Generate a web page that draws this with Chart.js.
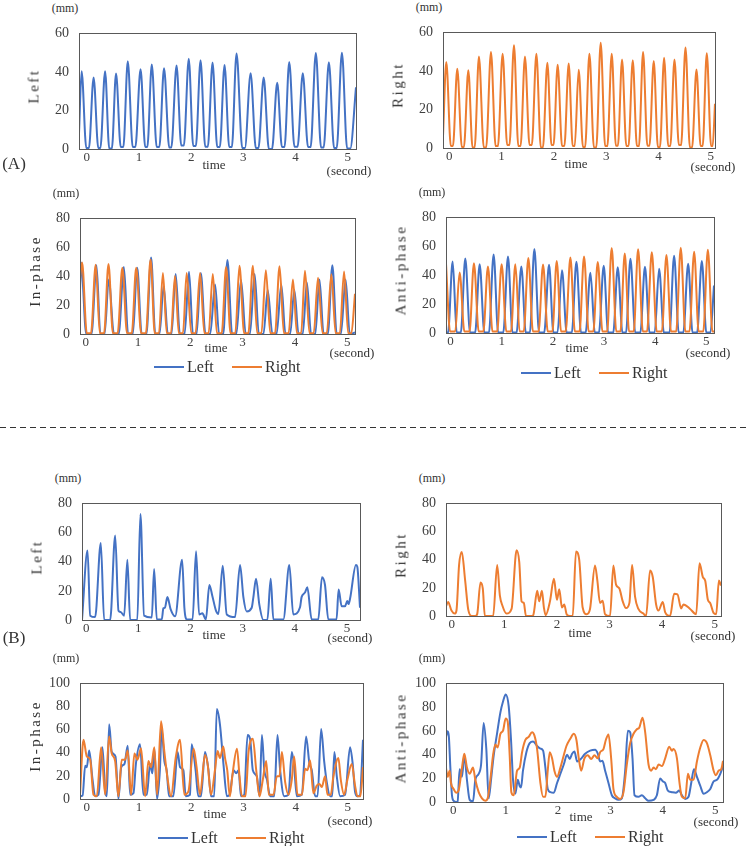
<!DOCTYPE html>
<html>
<head>
<meta charset="utf-8">
<script src="https://cdn.jsdelivr.net/npm/chart.js@4.4.1/dist/chart.umd.min.js"></script>
<style>
  body { margin: 0; width: 750px; height: 846px; background: #fff; position: relative; overflow: hidden;
         font-family: "Liberation Serif", "DejaVu Serif", serif; color: #333; }
  canvas { position: absolute; }
  .t { position: absolute; white-space: nowrap; transform: translate(-50%, -50%); line-height: 1.2; }
  .yl { position: absolute; white-space: nowrap; transform: translate(-50%, -50%) rotate(-90deg);
        letter-spacing: 2.5px; font-size: 15px; line-height: 1; }
  .sw { position: absolute; height: 2px; width: 30px; }
</style>
</head>
<body>
<svg style="position:absolute;left:0;top:0" width="750" height="846">
  <line x1="0" y1="427.5" x2="750" y2="427.5" stroke="#333" stroke-width="1" stroke-dasharray="6,4"/>
</svg>
<script>
// time (second), displacement (mm)

// (A) Left / Right alone
const aLeft = [[-0.15,8],[-0.10,40.3],[-0.01,0.5],[0.04,0.5],[0.13,37.1],[0.22,0.5],[0.26,0.5],[0.35,40.3],[0.43,0.3],[0.48,0.3],[0.56,39.2],[0.65,1],[0.70,1],[0.785,45.5],[0.88,1],[0.93,1],[1.03,41.4],[1.12,1],[1.16,1],[1.245,43.8],[1.34,1],[1.39,1],[1.48,41.9],[1.58,0.8],[1.62,0.8],[1.72,43.3],[1.81,1.8],[1.86,1.8],[1.954,46.9],[2.04,1.5],[2.09,1.5],[2.18,46],[2.27,1.2],[2.32,1.2],[2.41,44.9],[2.50,1],[2.55,1],[2.64,43.6],[2.73,1],[2.78,1],[2.87,49.6],[2.98,0.5],[3.03,0.5],[3.14,39.3],[3.24,0.5],[3.29,0.5],[3.39,37.1],[3.49,0],[3.55,0],[3.65,34.4],[3.74,1],[3.79,1],[3.88,45.2],[3.98,1.2],[4.04,1.2],[4.14,39.3],[4.24,1],[4.29,1],[4.39,49.8],[4.49,0.8],[4.54,0.8],[4.64,45],[4.74,0.5],[4.79,0.5],[4.89,50],[4.99,0.3],[5.05,0.3],[5.16,32]];

const aRight = [[-0.12,6],[-0.057,44.6],[0.03,1],[0.07,1],[0.153,41.1],[0.24,0.5],[0.28,0.5],[0.364,40.3],[0.445,0.3],[0.485,0.3],[0.567,47.5],[0.66,0.3],[0.705,0.3],[0.797,49.8],[0.886,1],[0.93,1],[1.02,48.9],[1.107,1.5],[1.15,1.5],[1.237,53.3],[1.32,1],[1.363,1],[1.447,47.5],[1.534,1.5],[1.578,1.5],[1.665,48.9],[1.75,0.3],[1.79,0.3],[1.875,44.3],[1.954,1.5],[1.993,1.5],[2.072,43.2],[2.156,1],[2.2,1],[2.283,43.8],[2.36,1],[2.398,1],[2.474,40.6],[2.556,0.5],[2.597,0.5],[2.679,48.9],[2.765,0.3],[2.81,0.3],[2.895,54.6],[2.98,1],[3.022,1],[3.106,48.9],[3.185,1.2],[3.224,1.2],[3.303,45.9],[3.385,1],[3.426,1],[3.508,45.5],[3.587,1],[3.626,1],[3.705,49.8],[3.787,1.2],[3.827,1.2],[3.909,45.1],[3.988,0.5],[4.028,0.5],[4.107,46.8],[4.186,1],[4.226,1],[4.305,45.9],[4.389,1.5],[4.432,1.5],[4.516,52.2],[4.6,0.3],[4.642,0.3],[4.726,40.8],[4.805,1],[4.844,1],[4.923,49.2],[5.005,1],[5.035,1],[5.08,23]];

// (A) in-phase
const aInLeft = [[-0.11,30],[-0.09,49.5],[0.01,0],[0.11,0],[0.205,47.6],[0.28,0],[0.36,0],[0.44,37.8],[0.54,0],[0.63,0],[0.729,46.3],[0.81,0],[0.90,0],[0.984,45.9],[1.07,0],[1.16,0],[1.25,52.9],[1.33,0],[1.41,0],[1.49,33],[1.57,0],[1.64,0],[1.72,41.6],[1.80,0],[1.89,0],[1.975,43.1],[2.05,0],[2.12,0],[2.20,42.3],[2.29,0],[2.38,0],[2.474,34.2],[2.55,0],[2.63,0],[2.71,51.2],[2.80,0],[2.88,0],[2.97,37.4],[3.06,0],[3.14,0],[3.23,41.6],[3.31,0],[3.40,0],[3.48,30.4],[3.57,0],[3.65,0],[3.74,34.2],[3.82,0],[3.91,0],[3.99,30.4],[4.07,0],[4.15,0],[4.23,35.7],[4.31,0],[4.39,0],[4.47,37.8],[4.55,0],[4.63,0],[4.717,47.6],[4.80,0],[4.88,0],[4.97,37.8],[5.05,0],[5.15,1]];

const aInRight = [[-0.11,38],[-0.07,49.5],[0.02,0.5],[0.10,0.5],[0.19,48],[0.27,0.5],[0.35,0.5],[0.435,48.4],[0.52,0.5],[0.61,0.5],[0.70,45.9],[0.79,0.5],[0.88,0.5],[0.965,45.9],[1.06,0.5],[1.15,0.5],[1.24,51.6],[1.32,0.5],[1.40,0.5],[1.476,42.3],[1.55,0.5],[1.63,0.5],[1.707,40.1],[1.78,0.5],[1.86,0.5],[1.93,42.3],[2.02,0.5],[2.10,0.5],[2.186,42.3],[2.27,0.5],[2.35,0.5],[2.43,41.6],[2.51,0.5],[2.60,0.5],[2.685,46.3],[2.77,0.5],[2.86,0.5],[2.94,47.3],[3.03,0.5],[3.11,0.5],[3.197,47.3],[3.28,0.5],[3.36,0.5],[3.445,44.2],[3.53,0.5],[3.62,0.5],[3.707,46.9],[3.79,0.5],[3.88,0.5],[3.963,37.8],[4.04,0.5],[4.12,0.5],[4.193,43.7],[4.28,0.5],[4.36,0.5],[4.443,38.9],[4.53,0.5],[4.61,0.5],[4.698,41.4],[4.78,0.5],[4.86,0.5],[4.941,43.3],[5.02,0.5],[5.08,0.5],[5.15,27.8]];

// (A) anti-phase
const aAntiLeft = [[-0.09,0.3],[-0.05,0.3],[0.04,49.5],[0.12,0.3],[0.20,0.3],[0.287,51.6],[0.38,0.3],[0.48,0.3],[0.568,47.6],[0.66,0.3],[0.75,0.3],[0.841,54.4],[0.93,0.3],[1.03,0.3],[1.122,52.9],[1.21,0.3],[1.29,0.3],[1.383,46.1],[1.47,0.3],[1.55,0.3],[1.638,58.2],[1.73,0.3],[1.83,0.3],[1.925,47.2],[2.01,0.3],[2.09,0.3],[2.178,43.4],[2.27,0.3],[2.37,0.3],[2.46,49.3],[2.55,0.3],[2.64,0.3],[2.734,41.7],[2.82,0.3],[2.90,0.3],[2.994,46.6],[3.08,0.3],[3.18,0.3],[3.268,45.5],[3.36,0.3],[3.43,0.3],[3.516,51.4],[3.61,0.3],[3.71,0.3],[3.80,45.9],[3.89,0.3],[3.99,0.3],[4.077,44.4],[4.17,0.3],[4.28,0.3],[4.37,53.5],[4.46,0.3],[4.55,0.3],[4.645,48],[4.73,0.3],[4.82,0.3],[4.912,49.9],[5.0,0.3],[5.08,0.3],[5.15,32.8]];

const aAntiRight = [[-0.09,48],[-0.01,1],[0.09,1],[0.176,41.9],[0.27,1],[0.37,1],[0.456,48.3],[0.55,1],[0.64,1],[0.73,46.1],[0.82,1],[0.91,1],[0.998,47.6],[1.09,1],[1.18,1],[1.266,47.6],[1.35,1],[1.43,1],[1.52,51.9],[1.61,1],[1.72,1],[1.807,47.4],[1.90,1],[1.99,1],[2.075,49.9],[2.16,1],[2.25,1],[2.342,52.3],[2.43,1],[2.52,1],[2.609,52.9],[2.70,1],[2.79,1],[2.877,49.1],[2.97,1],[3.06,1],[3.15,58.8],[3.24,1],[3.32,1],[3.405,55],[3.49,1],[3.58,1],[3.666,58],[3.76,1],[3.84,1],[3.934,55.9],[4.03,1],[4.13,1],[4.22,54],[4.31,1],[4.41,1],[4.50,59],[4.59,1],[4.67,1],[4.762,56.3],[4.85,1],[4.94,1],[5.03,57.6],[5.12,1],[5.15,1]];

// (B) Left / Right alone
const bLeft = [[-0.08,0],[0.026,47.7],[0.077,3],[0.172,2],[0.28,52.8],[0.345,0],[0.46,0],[0.556,58],[0.62,6.3],[0.66,5.5],[0.728,3],[0.79,41.3],[0.843,0],[0.98,0],[1.04,72.7],[1.11,3],[1.258,1.7],[1.303,35],[1.354,0.4],[1.45,0.4],[1.48,8],[1.51,8.4],[1.557,15.7],[1.62,7.3],[1.705,2.5],[1.84,41.3],[1.883,8.4],[1.93,0.4],[2.04,0.4],[2.107,47.1],[2.165,3.8],[2.228,4.6],[2.295,0.4],[2.362,24],[2.42,16.3],[2.49,6.3],[2.535,4.2],[2.618,37.3],[2.695,3.8],[2.854,2],[2.95,37.7],[3.014,15.7],[3.078,5.9],[3.174,8.4],[3.206,15.7],[3.257,28.3],[3.32,10.5],[3.397,0],[3.474,0],[3.538,28.3],[3.589,0.4],[3.78,0.4],[3.895,37.7],[3.97,3.8],[4.10,8.8],[4.13,15.7],[4.194,18.8],[4.24,22.4],[4.323,0.4],[4.45,0.4],[4.521,29.3],[4.579,24],[4.642,0.4],[4.80,0.4],[4.84,20.9],[4.898,9.4],[4.962,9.4],[5.006,13],[5.03,10.9],[5.06,14.7],[5.172,37.7],[5.198,36.6],[5.25,8.4]];

const bRight = [[-0.108,7.1],[-0.07,10],[-0.006,3.9],[0.057,1.7],[0.089,3.9],[0.139,36.3],[0.19,45.4],[0.254,25.3],[0.311,5],[0.375,0],[0.45,0],[0.483,1.3],[0.546,23.8],[0.59,19.5],[0.629,0],[0.787,0],[0.863,36.3],[0.914,14.7],[0.965,7.1],[1.04,1.7],[1.137,5],[1.232,46.7],[1.283,38.5],[1.327,10.4],[1.37,9.3],[1.41,0],[1.52,0],[1.549,0.6],[1.625,17.9],[1.663,10.4],[1.714,17.9],[1.752,6],[1.784,0.6],[1.867,10.4],[1.943,26.4],[2.0,11.5],[2.044,19],[2.095,6],[2.139,8.2],[2.184,1.3],[2.248,0],[2.30,0],[2.362,45.8],[2.425,39.5],[2.489,6],[2.565,1.3],[2.629,5],[2.724,35.9],[2.768,25.3],[2.819,9.3],[2.87,10.8],[2.914,1.3],[3.01,0],[3.073,35.9],[3.124,22.3],[3.187,19.5],[3.251,10.4],[3.314,5.6],[3.378,9.3],[3.429,36.3],[3.486,13.6],[3.549,5],[3.644,1.7],[3.695,0],[3.771,32.4],[3.822,27.7],[3.886,8.2],[3.93,3.9],[4.013,10],[4.057,2.8],[4.152,0],[4.229,15.8],[4.292,15.4],[4.362,5.4],[4.406,8.2],[4.533,5],[4.648,1.3],[4.711,37.4],[4.775,27.7],[4.82,25.1],[4.87,11.5],[4.914,9.3],[4.978,2.2],[5.029,1.3],[5.08,25.3],[5.118,21.6]];

// (B) in-phase
const bInLeft = [[-0.13,2.4],[-0.08,3],[-0.031,28.8],[0,27.5],[0.046,42],[0.11,16.9],[0.16,2.4],[0.224,3.7],[0.30,44.7],[0.352,6.3],[0.384,2.4],[0.428,64.6],[0.478,40.7],[0.55,36.8],[0.606,0],[0.66,27.5],[0.72,30.2],[0.784,46],[0.83,3.7],[0.894,5],[0.94,30.2],[1.02,47.4],[1.084,3.7],[1.15,3.7],[1.212,30.2],[1.256,22.2],[1.294,43.4],[1.346,0],[1.40,24.9],[1.434,60.6],[1.486,32.8],[1.53,24.9],[1.575,2.4],[1.657,2.4],[1.74,40.7],[1.786,27.5],[1.85,24.9],[1.894,2.4],[1.977,3.7],[2.008,47.4],[2.084,24.9],[2.135,2.4],[2.187,2.4],[2.264,40.7],[2.327,26.2],[2.379,2.4],[2.44,2.4],[2.49,77.8],[2.55,64.6],[2.62,28.8],[2.684,2.4],[2.735,3.7],[2.811,24.9],[2.862,22.2],[2.907,24.9],[2.952,2.4],[3.015,3.7],[3.079,55.3],[3.13,51.3],[3.18,24.9],[3.257,19.6],[3.308,2.4],[3.354,55.3],[3.40,24.9],[3.45,16.9],[3.512,2.4],[3.59,2.4],[3.652,55.3],[3.703,24.9],[3.78,2.4],[3.862,3.7],[3.927,40.7],[3.972,27.5],[4.023,2.4],[4.118,3.7],[4.20,54],[4.265,30.2],[4.309,24.9],[4.373,2.4],[4.42,2.4],[4.488,60.6],[4.546,32.8],[4.597,14.3],[4.66,2.4],[4.70,2.4],[4.742,40.7],[4.788,19.6],[4.852,2.4],[4.947,3.7],[5.042,44.7],[5.093,30.2],[5.138,6.3],[5.183,2.4],[5.23,3],[5.29,51.3]];

const bInRight = [[-0.13,3.7],[-0.063,51.3],[0,36.8],[0.065,34],[0.128,3.7],[0.192,2.4],[0.275,44.7],[0.352,3.7],[0.428,54],[0.478,39.4],[0.543,32.8],[0.606,2.4],[0.669,34],[0.733,34],[0.784,42],[0.849,3.7],[0.912,39.4],[0.97,34],[1.04,43.9],[1.117,2.4],[1.18,32.8],[1.23,27.5],[1.294,44.7],[1.346,3.7],[1.422,67.2],[1.486,40.7],[1.549,16.9],[1.614,2.4],[1.702,35.4],[1.786,51.3],[1.868,3.7],[1.945,6.3],[2.046,43.4],[2.103,27.5],[2.168,3.7],[2.264,38],[2.315,30],[2.379,3.7],[2.455,24.9],[2.505,41.5],[2.55,35.4],[2.614,45.5],[2.648,35.4],[2.69,24.9],[2.74,2.4],[2.79,20.9],[2.876,43.4],[2.925,19.6],[2.97,2.4],[3.04,2.4],[3.098,40.7],[3.181,52.1],[3.245,24.9],[3.308,2.4],[3.372,16.9],[3.436,32.8],[3.487,3.7],[3.576,3.7],[3.64,19.6],[3.69,19.6],[3.736,40.7],[3.80,14.3],[3.862,3.7],[3.927,16.9],[3.971,36.8],[4.036,3.7],[4.12,3.7],[4.181,26.2],[4.226,24.9],[4.277,33.3],[4.34,5],[4.405,11.6],[4.456,13],[4.50,10.3],[4.564,19.6],[4.609,3.7],[4.673,3.7],[4.723,19.6],[4.819,35.4],[4.864,16.9],[4.928,3.7],[4.992,16.9],[5.074,30.2],[5.138,11.6],[5.183,2.4],[5.24,2.4],[5.29,27.5]];

// (B) anti-phase
const bAntiLeft = [[-0.141,54.9],[-0.109,59.6],[-0.085,54.9],[-0.057,29],[-0.026,5.7],[0.006,1],[0.056,0],[0.082,0.5],[0.12,27.7],[0.165,21.2],[0.21,39.4],[0.26,18.7],[0.312,1.8],[0.376,0.5],[0.42,18.7],[0.484,23.8],[0.53,31.6],[0.579,66.6],[0.63,44.6],[0.675,3.1],[0.72,18.7],[0.771,39.4],[0.834,57.5],[0.899,75.6],[0.949,84.7],[1.0,90.7],[1.057,80.8],[1.102,52.3],[1.14,18.7],[1.185,7],[1.23,18.7],[1.267,13.5],[1.293,12.2],[1.33,26.4],[1.395,42],[1.459,49.7],[1.523,51],[1.6,47.2],[1.663,45],[1.714,43.3],[1.758,29],[1.803,10.9],[1.854,8.3],[1.918,7.8],[1.981,16],[2.045,23.8],[2.109,31.6],[2.172,39.9],[2.224,36.3],[2.268,40.7],[2.313,42.5],[2.364,34.2],[2.428,36],[2.517,40.7],[2.613,43.3],[2.708,44],[2.759,40.7],[2.803,34.2],[2.848,34.7],[2.899,26.4],[2.963,16],[3.027,5.7],[3.09,3.1],[3.154,1.8],[3.218,3.1],[3.282,26.4],[3.333,60.1],[3.377,58.8],[3.422,36.8],[3.46,5.7],[3.537,4.4],[3.6,5.7],[3.664,3.1],[3.728,1],[3.824,1.8],[3.887,5.7],[3.95,19.9],[4.0,17.4],[4.046,16],[4.097,9.6],[4.173,8.3],[4.25,7.8],[4.314,9.6],[4.365,5.7],[4.429,2.6],[4.492,4.4],[4.543,16],[4.595,27.7],[4.652,21.2],[4.716,13.5],[4.78,7],[4.843,8.3],[4.907,10.9],[4.971,17.4],[5.035,18.7],[5.098,23.8],[5.15,30.3]];

const bAntiRight = [[-0.141,29],[-0.109,21.2],[-0.071,26.4],[-0.045,16],[0.006,10.9],[0.056,7.8],[0.1,9.6],[0.165,29],[0.21,40.7],[0.26,29],[0.312,23.8],[0.376,29],[0.42,18.7],[0.484,8.3],[0.547,3.1],[0.611,1],[0.656,3.1],[0.707,18.7],[0.758,39.4],[0.802,48.4],[0.847,45.9],[0.899,57.5],[0.949,60.1],[1.0,70.5],[1.038,67.9],[1.076,39.4],[1.108,8.3],[1.153,5.7],[1.217,26.4],[1.268,29],[1.313,42],[1.376,52.3],[1.44,54.9],[1.503,58.8],[1.548,56.2],[1.6,44.6],[1.663,16],[1.714,4.4],[1.758,4.4],[1.803,26.4],[1.841,42],[1.886,36.8],[1.93,26.4],[1.981,21.2],[2.045,29],[2.109,39.4],[2.16,47.2],[2.236,53.6],[2.3,57.5],[2.351,52.3],[2.396,36.8],[2.44,26.4],[2.504,36.8],[2.568,39.4],[2.632,36.3],[2.696,39.4],[2.759,36.8],[2.803,42],[2.867,44.6],[2.912,52.3],[2.963,57],[3.014,36.8],[3.058,10.9],[3.122,4.4],[3.186,2.6],[3.25,8.3],[3.313,31.6],[3.377,49.7],[3.441,57.5],[3.505,61.4],[3.55,62.7],[3.614,71],[3.664,58.8],[3.728,31.6],[3.779,26.4],[3.824,29],[3.869,27.7],[3.92,31.6],[3.984,30.3],[4.046,36.8],[4.123,46.6],[4.173,43.3],[4.205,44.6],[4.27,36.8],[4.32,16],[4.365,4.4],[4.429,3.1],[4.48,23.8],[4.524,18.7],[4.588,18.7],[4.652,34.2],[4.716,45.9],[4.78,52.3],[4.843,49.7],[4.907,39.4],[4.971,26.4],[5.016,22.5],[5.066,26.4],[5.117,27.7],[5.15,34.7]];

const timeTicks = [0, 1, 2, 3, 4, 5];
const BLUE = '#4472C4', ORANGE = '#ED7D31';

Chart.defaults.font.family = '"Liberation Serif", "DejaVu Serif", serif';
Chart.defaults.color = '#404040';

const PL = 45, PT = 8, PR = 8, PB = 22;

const frame = {
  id: 'frame',
  afterDraw(chart) {
    const a = chart.chartArea, c = chart.ctx;
    c.save();
    c.strokeStyle = '#595959';
    c.lineWidth = 1;
    c.strokeRect(Math.round(a.left) + 0.5, Math.round(a.top) + 0.5, Math.round(a.right - a.left), Math.round(a.bottom - a.top));
    c.restore();
  }
};

function drawPanel(box, xMin, xMax, yMax, series) {
  const cv = document.createElement('canvas');
  const w = box[2] - box[0] + PL + PR, h = box[3] - box[1] + PT + PB;
  cv.width = w; cv.height = h;
  cv.style.left = (box[0] - PL) + 'px';
  cv.style.top = (box[1] - PT) + 'px';
  cv.style.width = w + 'px'; cv.style.height = h + 'px';
  document.body.appendChild(cv);

  new Chart(cv, {
    type: 'line',
    data: {
      datasets: series.map(s => ({
        data: s.data.map(p => ({ x: p[0], y: p[1] })),
        borderColor: s.color,
        borderWidth: 2,
        pointRadius: 0,
        cubicInterpolationMode: 'monotone',
        order: s.order
      }))
    },
    options: {
      responsive: false,
      animation: false,
      devicePixelRatio: 1,
      layout: { padding: { left: 0, top: PT, right: PR, bottom: 0 } },
      plugins: { legend: { display: false }, tooltip: { enabled: false } },
      scales: {
        x: {
          type: 'linear', min: xMin, max: xMax,
          afterBuildTicks: s => { s.ticks = timeTicks.map(v => ({ value: v })); },
          afterFit: s => { s.height = PB; },
          grid: { display: false, drawTicks: false },
          border: { display: false },
          ticks: { font: { size: 13 }, padding: 1, maxRotation: 0, autoSkip: false }
        },
        y: {
          min: 0, max: yMax,
          afterFit: s => { s.width = PL; },
          grid: { display: false, drawTicks: false },
          border: { display: false },
          ticks: { stepSize: 20, font: { size: 14 }, padding: 10 }
        }
      }
    },
    plugins: [frame]
  });
}

function txt(s, x, y, size, cls) {
  const d = document.createElement('div');
  d.className = cls || 't';
  d.textContent = s;
  d.style.left = x + 'px';
  d.style.top = y + 'px';
  if (size) d.style.fontSize = size + 'px';
  document.body.appendChild(d);
}

function legend(x, y) {
  [[BLUE, 'Left', 0], [ORANGE, 'Right', 78]].forEach(([c, s, dx]) => {
    const sw = document.createElement('div');
    sw.className = 'sw';
    sw.style.background = c;
    sw.style.left = (x + dx) + 'px';
    sw.style.top = (y - 1) + 'px';
    document.body.appendChild(sw);
    const d = document.createElement('div');
    d.className = 't';
    d.style.transform = 'translate(0,-50%)';
    d.textContent = s;
    d.style.fontSize = '16px';
    d.style.left = (x + dx + 33) + 'px';
    d.style.top = y + 'px';
    document.body.appendChild(d);
  });
}

function axisText(box, xName, tx, ty, sx, sy) {
  txt('(mm)', box[0] - 14, box[1] - 15, 12);
  txt(xName, box[0] - 45, (box[1] + box[3]) / 2, null, 'yl');
  txt('time', tx, ty, 13);
  txt('(second)', sx, sy, 13);
}

// (A)
drawPanel([79, 23, 356, 149], -0.15, 5.16, 60, [{ data: aLeft, color: BLUE, order: 0 }]);
axisText([79, 23, 356, 149], 'Left', 214, 165, 349, 171);
drawPanel([443, 22, 715, 148], -0.12, 5.08, 60, [{ data: aRight, color: ORANGE, order: 0 }]);
axisText([443, 22, 715, 148], 'Right', 576, 164, 713, 167);

drawPanel([80, 208, 355, 334], -0.11, 5.15, 80, [{ data: aInLeft, color: BLUE, order: 1 }, { data: aInRight, color: ORANGE, order: 0 }]);
axisText([80, 208, 355, 334], 'In-phase', 216, 348, 352, 353);
legend(154, 367);
drawPanel([446, 207, 714, 333], -0.09, 5.15, 80, [{ data: aAntiLeft, color: BLUE, order: 1 }, { data: aAntiRight, color: ORANGE, order: 0 }]);
axisText([446, 207, 714, 333], 'Anti-phase', 577, 348, 708, 353);
legend(521, 373);

txt('(A)', 14, 164, 17);

// (B)
drawPanel([82, 493, 360, 620], -0.08, 5.25, 80, [{ data: bLeft, color: BLUE, order: 0 }]);
axisText([82, 493, 360, 620], 'Left', 214, 635, 350, 638);
drawPanel([446, 493, 721, 616], -0.11, 5.12, 80, [{ data: bRight, color: ORANGE, order: 0 }]);
axisText([446, 493, 721, 616], 'Right', 580, 633, 713, 636);

drawPanel([80, 673, 363, 799], -0.13, 5.29, 100, [{ data: bInLeft, color: BLUE, order: 1 }, { data: bInRight, color: ORANGE, order: 0 }]);
axisText([80, 673, 363, 799], 'In-phase', 215, 814, 350, 821);
legend(158, 838);
drawPanel([446, 673, 723, 802], -0.14, 5.15, 100, [{ data: bAntiLeft, color: BLUE, order: 1 }, { data: bAntiRight, color: ORANGE, order: 0 }]);
axisText([446, 673, 723, 802], 'Anti-phase', 581, 817, 716, 822);
legend(517, 837);

txt('(B)', 14, 638, 17);
</script>
</body>
</html>
